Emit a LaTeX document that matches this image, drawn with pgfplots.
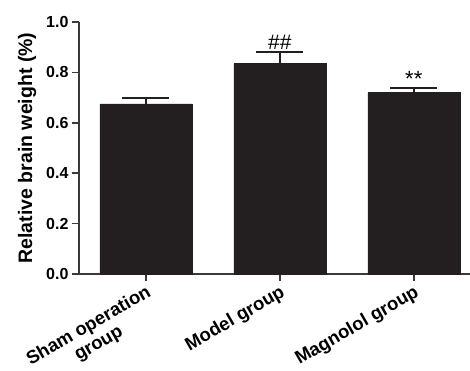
\documentclass[border=0pt]{standalone}
\usepackage{fontspec}
\setmainfont{Liberation Sans}
\usepackage{pgfplots}
\pgfplotsset{compat=1.18}
\definecolor{barc}{HTML}{231F20}
\definecolor{axc}{HTML}{3A3A3A}
\begin{document}
\begin{tikzpicture}
\begin{axis}[
  at={(0,0)}, anchor=south west,
  scale only axis, width=391pt, height=252pt,
  xmin=-0.5, xmax=2.42, ymin=0, ymax=1.0,
  ybar, bar width=92pt,
  axis x line*=bottom, axis y line*=left,
  axis line style={line width=1.6pt, color=axc},
  tick align=outside, major tick length=7pt,
  tick style={line width=1.6pt, color=axc},
  xtick={0,1,2},
  xticklabels={{Sham operation\\group},{Model group},{Magnolol group}},
  xticklabel style={rotate=30, anchor=north east, align=center, inner sep=2pt, font=\bfseries\fontsize{18.5}{20}\selectfont},
  ytick={0,0.2,0.4,0.6,0.8,1.0},
  /pgf/number format/assume math mode=true,
  yticklabel={\pgfmathprintnumber[fixed,fixed zerofill,precision=1]{\tick}},
  yticklabel style={font=\bfseries\fontsize{16}{16}\selectfont},
  ylabel={Relative brain weight (\%)},
  ylabel style={font=\bfseries\fontsize{19.5}{20}\selectfont, yshift=3pt},
  clip=false,
]
\addplot[fill=barc, draw=barc,
  error bars/.cd, y dir=plus, y explicit,
  error bar style={line width=2pt, color=barc},
  error mark options={rotate=90, line width=2pt, mark size=23.5pt, color=barc}]
  coordinates {(0,0.675) +- (0,0.025) (1,0.836) +- (0,0.044) (2,0.72) +- (0,0.02)};
\node[anchor=south, font=\fontsize{21}{20}\selectfont, inner sep=1pt] at (axis cs:1,0.885) {\#\#};
\node[anchor=south, font=\fontsize{22}{20}\selectfont, inner sep=0pt] at (axis cs:2,0.745) {**};
\end{axis}
\pgfresetboundingbox
\path[use as bounding box] (-79pt,-96pt) rectangle (391pt,274pt);
\end{tikzpicture}
\end{document}
